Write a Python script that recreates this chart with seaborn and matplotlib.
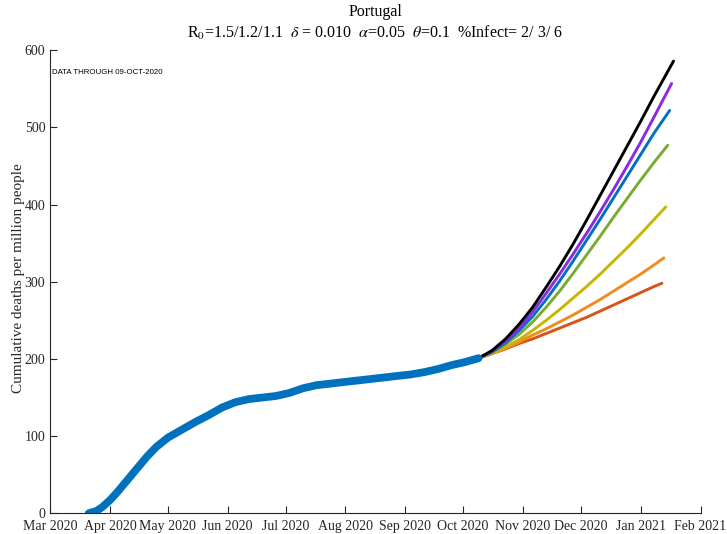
import matplotlib
matplotlib.use("Agg")
import matplotlib.pyplot as plt
import matplotlib.dates as mdates
import numpy as np
import pandas as pd
import seaborn as sns

# observed cumulative deaths per million (Portugal)
obs_dates = ['2020-03-21', '2020-03-25', '2020-03-28', '2020-04-01', '2020-04-05',
             '2020-04-10', '2020-04-15', '2020-04-20', '2020-04-25', '2020-05-01',
             '2020-05-08', '2020-05-15', '2020-05-22', '2020-05-29', '2020-06-05',
             '2020-06-12', '2020-06-19', '2020-06-26', '2020-07-03', '2020-07-10',
             '2020-07-17', '2020-07-24', '2020-07-31', '2020-08-07', '2020-08-14',
             '2020-08-21', '2020-08-28', '2020-09-04', '2020-09-11', '2020-09-18',
             '2020-09-25', '2020-10-02', '2020-10-09']
obs_values = [0, 3, 8, 17, 28, 43, 58, 73, 86, 98, 108, 118, 127, 137, 144,
              148, 150, 152, 156, 162, 166, 168, 170, 172, 174, 176, 178, 180,
              183, 187, 192, 196, 201]

# projections: weekly points from 09-Oct, then each scenario's own last day
proj_dates = ['2020-10-09', '2020-10-16', '2020-10-23', '2020-10-30', '2020-11-06',
              '2020-11-13', '2020-11-20', '2020-11-27', '2020-12-04', '2020-12-11',
              '2020-12-18', '2020-12-25', '2021-01-01', '2021-01-08']
scenarios = ['s1', 's2', 's3', 's4', 's5', 's6', 's7']
proj_end_dates = ['2021-01-18', '2021-01-17', '2021-01-16', '2021-01-15',
                  '2021-01-14', '2021-01-13', '2021-01-12']
proj_s1 = [201, 211, 226, 245, 267, 293, 320, 349, 380, 412, 444, 476, 508, 541, 586]
proj_s2 = [201, 210, 223, 240, 261, 285, 310, 336, 363, 391, 420, 450, 481, 514, 557]
proj_s3 = [201, 209, 221, 237, 255, 277, 301, 327, 354, 381, 409, 437, 465, 493, 522]
proj_s4 = [201, 209, 219, 232, 248, 267, 288, 311, 335, 359, 384, 408, 432, 455, 477]
proj_s5 = [201, 207, 215, 225, 237, 250, 264, 279, 294, 310, 327, 344, 362, 381, 397]
proj_s6 = [201, 207, 214, 222, 231, 239, 248, 257, 267, 277, 288, 299, 310, 322, 331]
proj_s7 = [201, 207, 213, 220, 226, 233, 240, 247, 254, 262, 270, 278, 286, 294, 298]
proj_values = [proj_s1, proj_s2, proj_s3, proj_s4, proj_s5, proj_s6, proj_s7]
proj_colors = ['#000000', '#8A2BE2', '#0072BD', '#77AC30', '#C9B400', '#EF8C1F', '#D95319']

sns.set_theme(style='ticks')
plt.rcParams['font.family'] = ['Liberation Serif', 'DejaVu Serif']
plt.rcParams['mathtext.fontset'] = 'stix'

obs = pd.DataFrame({'date': pd.to_datetime(obs_dates), 'deaths': obs_values})
rows = []
for name, vals, end in zip(scenarios, proj_values, proj_end_dates):
    for d, v in zip(proj_dates + [end], vals):
        rows.append({'date': pd.Timestamp(d), 'deaths': v, 'scenario': name})
proj = pd.DataFrame(rows)

fig = plt.figure(figsize=(7.27, 5.34), dpi=100)
ax = fig.add_axes([0.069, 0.0388, 0.8946, 0.867])

sns.lineplot(data=proj, x='date', y='deaths', hue='scenario',
             hue_order=scenarios[::-1], palette=proj_colors[::-1],
             linewidth=2.1, legend=False, ax=ax, sort=False)
sns.lineplot(data=obs, x='date', y='deaths', color='#0072BD',
             linewidth=5.6, solid_capstyle='round', ax=ax, sort=False)

ax.set_xlim(pd.Timestamp('2020-03-01'), pd.Timestamp('2021-02-01'))
ax.set_ylim(0, 600)
ax.set_yticks(np.arange(0, 601, 100))
ax.xaxis.set_major_locator(mdates.MonthLocator())
ax.xaxis.set_major_formatter(mdates.DateFormatter('%b %Y'))

ax.set_xlabel('')
ax.set_ylabel('Cumulative deaths per million people', fontsize=11,
              color='#262626', labelpad=-0.5)
ax.yaxis.label.set_y(0.508)
ax.tick_params(direction='in', length=5, width=0.8, colors='#262626',
               labelsize=10, labelcolor='#262626')
ax.tick_params(axis='x', pad=5)
for side in ['top', 'right']:
    ax.spines[side].set_visible(False)
for side in ['left', 'bottom']:
    ax.spines[side].set_color('#262626')
    ax.spines[side].set_linewidth(0.8)

ax.set_title('Portugal\n'
             r'R$_0$=1.5/1.2/1.1  $\delta$ = 0.010  $\alpha$=0.05  $\theta$=0.1  %Infect= 2/ 3/ 6',
             fontsize=11.5, pad=9, color='black', linespacing=1.25)

ax.text(0.003, 0.952, 'DATA THROUGH 09-OCT-2020', transform=ax.transAxes,
        fontsize=5.7, family=['Liberation Sans', 'DejaVu Sans'],
        ha='left', va='center', color='black')

fig.savefig('out.png', dpi=100, facecolor='white')
